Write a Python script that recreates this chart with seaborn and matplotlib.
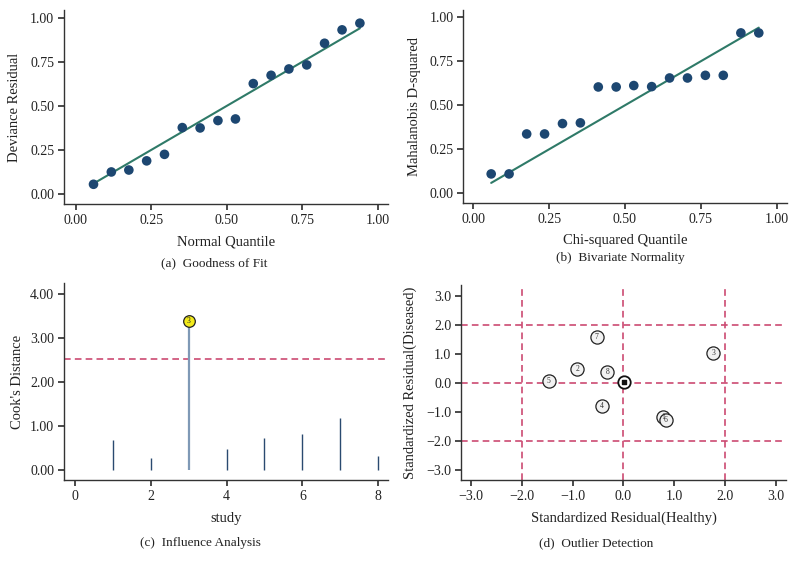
import numpy as np
import pandas as pd
import matplotlib
matplotlib.use("Agg")
import matplotlib.pyplot as plt
import seaborn as sns

# ---------------- data ----------------
quantiles = [0.059, 0.118, 0.176, 0.235, 0.294, 0.353, 0.412, 0.471,
             0.529, 0.588, 0.647, 0.706, 0.765, 0.824, 0.882, 0.941]
deviance_resid = [0.055, 0.125, 0.136, 0.188, 0.225, 0.377, 0.375, 0.417,
                  0.426, 0.627, 0.674, 0.710, 0.733, 0.856, 0.932, 0.970]
mahal_d2 = [0.110, 0.110, 0.337, 0.337, 0.396, 0.400, 0.604, 0.604,
            0.612, 0.606, 0.655, 0.655, 0.670, 0.670, 0.911, 0.911]

study = [1, 2, 3, 4, 5, 6, 7, 8]
cooks_d = [0.68, 0.27, 3.38, 0.48, 0.73, 0.81, 1.18, 0.32]
cooks_cut = 2.52
influential = [3]

resid_healthy = [0.78, -0.91, 1.77, -0.43, -1.47, 0.83, -0.53, -0.32]
resid_diseased = [-1.17, 0.46, 1.02, -0.80, 0.07, -1.29, 1.59, 0.38]
center_xy = (0.02, 0.03)
outlier_cuts = [-2.0, 0.0, 2.0]

# ---------------- style ----------------
sns.set_theme(style="ticks")
plt.rcParams["font.family"] = ["Liberation Serif", "DejaVu Serif"]
plt.rcParams["axes.linewidth"] = 1.0
plt.rcParams["axes.edgecolor"] = "#333333"
plt.rcParams["xtick.color"] = "#333333"
plt.rcParams["ytick.color"] = "#333333"
plt.rcParams["xtick.labelcolor"] = "#222222"
plt.rcParams["ytick.labelcolor"] = "#222222"
plt.rcParams["xtick.major.size"] = 4
plt.rcParams["ytick.major.size"] = 4
plt.rcParams["xtick.labelsize"] = 10
plt.rcParams["ytick.labelsize"] = 10

NAVY = "#1d4771"
GREEN = "#2f7a68"
DASH = "#cc4a72"

fig = plt.figure(figsize=(7.96, 5.70), dpi=100)

def style_axes(ax, xlab, ylab, xl_y, yl_x):
    sns.despine(ax=ax)
    ax.set_xlabel(xlab, fontsize=10.5, color="#222222")
    ax.set_ylabel(ylab, fontsize=10.5, color="#222222")
    ax.xaxis.label.set_va("center")
    ax.yaxis.label.set_va("center")
    ax.yaxis.label.set_ha("center")
    ax.xaxis.set_label_coords(0.5, xl_y)
    ax.yaxis.set_label_coords(yl_x, 0.5)
    ax.tick_params(axis="both", pad=3)

# (a) Goodness of fit
ax_a = fig.add_axes([0.0804, 0.6421, 0.4070, 0.3404])
df_a = pd.DataFrame({"q": quantiles, "r": deviance_resid})
sns.lineplot(x=quantiles, y=quantiles, ax=ax_a, color=GREEN, lw=1.5)
sns.scatterplot(data=df_a, x="q", y="r", ax=ax_a, color=NAVY, s=48,
                edgecolor="none", zorder=3)
ax_a.set_xlim(-0.0387, 1.034)
ax_a.set_ylim(-0.057, 1.045)
ax_a.set_xticks([0, 0.25, 0.5, 0.75, 1.0])
ax_a.set_yticks([0, 0.25, 0.5, 0.75, 1.0])
ax_a.xaxis.set_major_formatter(matplotlib.ticker.FormatStrFormatter("%.2f"))
ax_a.yaxis.set_major_formatter(matplotlib.ticker.FormatStrFormatter("%.2f"))
style_axes(ax_a, "Normal Quantile", "Deviance Residual", -0.194, -0.154)

# (b) Bivariate normality
ax_b = fig.add_axes([0.5820, 0.6433, 0.4063, 0.3391])
df_b = pd.DataFrame({"q": quantiles, "d": mahal_d2})
sns.lineplot(x=quantiles, y=quantiles, ax=ax_b, color=GREEN, lw=1.5)
sns.scatterplot(data=df_b, x="q", y="d", ax=ax_b, color=NAVY, s=48,
                edgecolor="none", zorder=3)
ax_b.set_xlim(-0.033, 1.033)
ax_b.set_ylim(-0.057, 1.041)
ax_b.set_xticks([0, 0.25, 0.5, 0.75, 1.0])
ax_b.set_yticks([0, 0.25, 0.5, 0.75, 1.0])
ax_b.xaxis.set_major_formatter(matplotlib.ticker.FormatStrFormatter("%.2f"))
ax_b.yaxis.set_major_formatter(matplotlib.ticker.FormatStrFormatter("%.2f"))
style_axes(ax_b, "Chi-squared Quantile", "Mahalanobis D-squared", -0.19, -0.152)

# (c) Influence analysis
ax_c = fig.add_axes([0.0804, 0.1579, 0.4070, 0.3456])
df_c = pd.DataFrame({"study": study, "d": cooks_d})
df_c["hi"] = df_c["study"].isin(influential)
for hi, col, lw in [(False, "#2a4a70", 1.0), (True, "#7f99b6", 1.6)]:
    sub = df_c[df_c["hi"] == hi]
    ax_c.vlines(sub["study"], 0, sub["d"], color=col, lw=lw, zorder=2)
ax_c.axhline(cooks_cut, color=DASH, lw=1.2, ls=(0, (4, 2.5)), zorder=1)
hi_df = df_c[df_c["hi"]]
sns.scatterplot(data=hi_df, x="study", y="d", ax=ax_c, color="#f2ea1a",
                edgecolor="#222222", linewidth=0.9, s=70, zorder=4)
for _, r in hi_df.iterrows():
    ax_c.text(r["study"], r["d"], str(int(r["study"])), fontsize=5.5,
              ha="center", va="center", zorder=5, color="#222222")
ax_c.set_xlim(-0.29, 8.26)
ax_c.set_ylim(-0.227, 4.24)
ax_c.set_xticks([0, 2, 4, 6, 8])
ax_c.set_yticks([0, 1, 2, 3, 4])
ax_c.yaxis.set_major_formatter(matplotlib.ticker.FormatStrFormatter("%.2f"))
style_axes(ax_c, "study", "Cook's Distance", -0.193, -0.145)

# (d) Outlier detection
ax_d = fig.add_axes([0.5791, 0.1579, 0.4083, 0.3421])
for c in outlier_cuts:
    ax_d.axhline(c, color=DASH, lw=1.2, ls=(0, (4, 2.5)), zorder=1)
    ax_d.axvline(c, color=DASH, lw=1.2, ls=(0, (4, 2.5)), zorder=1)
df_d = pd.DataFrame({"h": resid_healthy, "dz": resid_diseased, "study": study})
sns.scatterplot(data=df_d, x="h", y="dz", ax=ax_d, color="#f2f2f2",
                edgecolor="#222222", linewidth=0.9, s=90, zorder=3)
for _, r in df_d.iterrows():
    ax_d.text(r["h"], r["dz"], str(int(r["study"])), fontsize=5.5,
              ha="center", va="center", zorder=4, color="#333333")
ax_d.scatter([center_xy[0]], [center_xy[1]], s=80, facecolor="white",
             edgecolor="#111111", linewidth=1.3, zorder=5)
ax_d.scatter([center_xy[0]], [center_xy[1]], s=10, marker="s",
             color="#111111", zorder=6)
ax_d.set_xlim(-3.2, 3.2)
ax_d.set_ylim(-3.35, 3.37)
ticks_d = [-3, -2, -1, 0, 1, 2, 3]
ax_d.set_xticks(ticks_d)
ax_d.set_yticks(ticks_d)
fmt_d = matplotlib.ticker.FuncFormatter(lambda v, p: f"{v:.1f}".replace("-", "\u2212"))
ax_d.xaxis.set_major_formatter(fmt_d)
ax_d.yaxis.set_major_formatter(fmt_d)
style_axes(ax_d, "Standardized Residual(Healthy)", "Standardized Residual(Diseased)",
           -0.195, -0.157)

# captions
cap_kw = dict(fontsize=9.5, ha="center", va="center", color="#222222")
fig.text(214 / 796, 1 - 263 / 570, "(a)  Goodness of Fit", **cap_kw)
fig.text(620 / 796, 1 - 258 / 570, "(b)  Bivariate Normality", **cap_kw)
fig.text(200 / 796, 1 - 543 / 570, "(c)  Influence Analysis", **cap_kw)
fig.text(596 / 796, 1 - 543 / 570, "(d)  Outlier Detection", **cap_kw)

fig.savefig("out.png", dpi=100)
